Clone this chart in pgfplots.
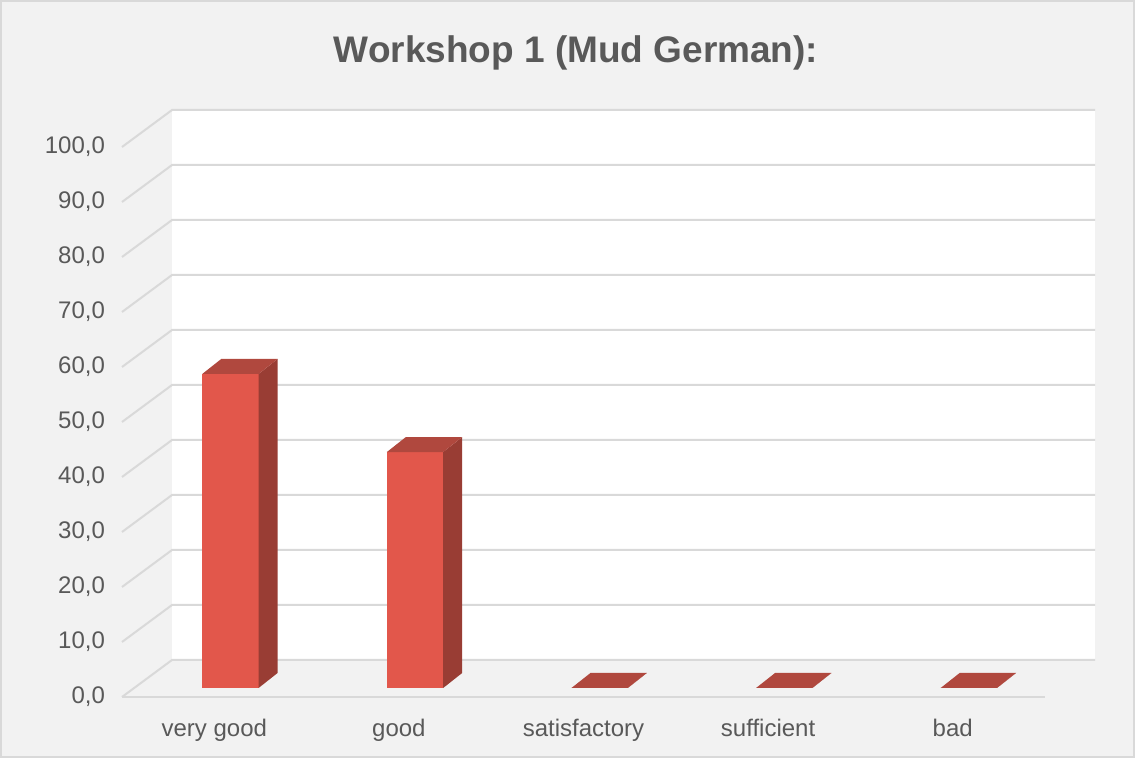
\documentclass[border=0pt]{standalone}
\usepackage{pgfplots}
\usepackage{pgfplotstable}
\pgfplotsset{compat=1.18}
\usepackage{fontspec}
\setmainfont{Liberation Sans}
\definecolor{bg}{HTML}{F2F2F2}
\definecolor{gridc}{HTML}{D9D9D9}
\definecolor{txt}{HTML}{595959}
\definecolor{barfront}{HTML}{E2574B}
\definecolor{barside}{HTML}{993D34}
\definecolor{bartop}{HTML}{B0483E}
\pgfplotstableread{
pos val
0 57.1
1 42.9
2 0
3 0
4 0
}\datatable
\begin{document}
\begin{tikzpicture}
\fill[bg] (0pt,0pt) rectangle (567.5pt,379pt);
\draw[gridc, line width=1pt] (0.5pt,0.5pt) rectangle (567pt,378.5pt);
\node[text=txt, anchor=base, font=\fontsize{18.5}{21}\selectfont\bfseries] at (288pt,347.5pt) {Workshop 1 (Mud German):};
\begin{axis}[
  at={(61pt,30.5pt)}, anchor=south west,
  scale only axis, width=486.5pt, height=293.5pt,
  xmin=0, xmax=5.271, ymin=0, ymax=106.73,
  clip=false,
  axis line style={draw=none}, tick style={draw=none},
  xtick={0.5,1.5,2.5,3.5,4.5},
  xticklabels={very good,good,satisfactory,sufficient,bad},
  ytick={0,10,...,100},
  yticklabel style={xshift=-5pt},
  xticklabel style={anchor=base, yshift=-20pt},
  ticklabel style={text=txt, font=\fontsize{12}{14}\selectfont},
  /pgf/number format/.cd, fixed, fixed zerofill, precision=1, use comma, assume math mode=true,
]
\fill[white] (axis cs:0.271,6.73) rectangle (axis cs:5.271,106.73);
\draw[gridc, line width=1pt] (axis cs:0,0) -- (axis cs:5,0);
\pgfplotsinvokeforeach{0,10,...,100}{
  \draw[gridc, line width=1pt] (axis cs:0,#1) -- (axis cs:0.271,{#1+6.73}) -- (axis cs:5.271,{#1+6.73});
}
\pgfplotsinvokeforeach{0,...,4}{
  \pgfplotstablegetelem{#1}{val}\of\datatable
  \pgfmathsetmacro\xa{#1+0.435}
  \pgfmathsetmacro\xb{#1+0.740}
  \pgfmathsetmacro\xc{#1+0.538}
  \pgfmathsetmacro\xd{#1+0.843}
  \pgfmathsetmacro\yb{1.64}
  \pgfmathsetmacro\ybb{1.64+2.73}
  \pgfmathsetmacro\yt{1.64+\pgfplotsretval}
  \pgfmathsetmacro\ytt{\yt+2.73}
  \edef\temp{%
    \noexpand\addplot[fill=barfront, draw=none, forget plot] coordinates {(\xa,\yb) (\xb,\yb) (\xb,\yt) (\xa,\yt)} --cycle;
    \noexpand\addplot[fill=barside, draw=none, forget plot] coordinates {(\xb,\yb) (\xd,\ybb) (\xd,\ytt) (\xb,\yt)} --cycle;
    \noexpand\addplot[fill=bartop, draw=none, forget plot] coordinates {(\xa,\yt) (\xb,\yt) (\xd,\ytt) (\xc,\ytt)} --cycle;
  }\temp
}
\end{axis}
\end{tikzpicture}
\end{document}
